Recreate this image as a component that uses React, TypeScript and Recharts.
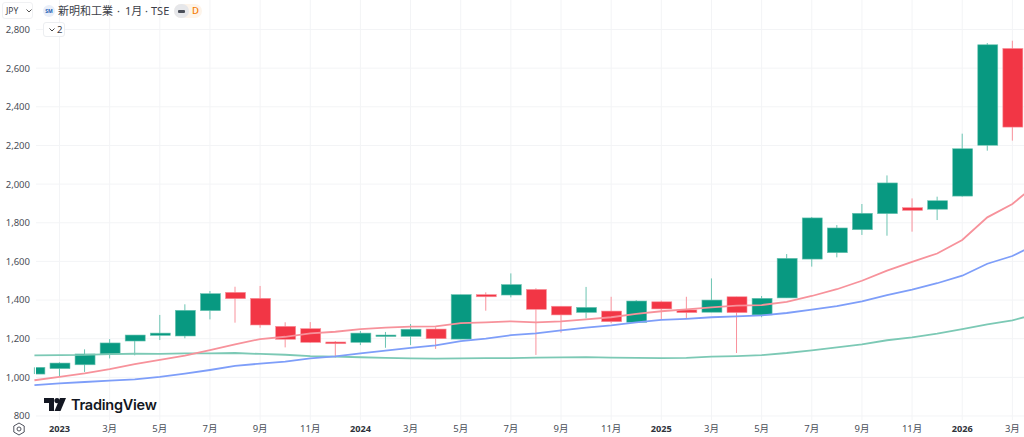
import React from 'react';
import { ComposedChart, Bar, Line, XAxis, YAxis, CartesianGrid } from 'recharts';

const months = [
  '2022-12', '2023-01', '2023-02', '2023-03', '2023-04', '2023-05', '2023-06', '2023-07', '2023-08', '2023-09', '2023-10', '2023-11', '2023-12',
  '2024-01', '2024-02', '2024-03', '2024-04', '2024-05', '2024-06', '2024-07', '2024-08', '2024-09', '2024-10', '2024-11', '2024-12',
  '2025-01', '2025-02', '2025-03', '2025-04', '2025-05', '2025-06', '2025-07', '2025-08', '2025-09', '2025-10', '2025-11', '2025-12',
  '2026-01', '2026-02', '2026-03', '2026-04',
];

const opens = [
  1017, 1045, 1065, 1121, 1188, 1217, 1214, 1345, 1440, 1409, 1264, 1252, 1183,
  1181, 1212, 1212, 1250, 1198, 1428, 1426, 1455, 1368, 1336, 1343, 1285,
  1391, 1349, 1337, 1417, 1323, 1411, 1612, 1645, 1764, 1847, 1878, 1870,
  1938, 2201, 2702, null,
];
const closes = [
  1052, 1074, 1121, 1178, 1219, 1229, 1347, 1433, 1407, 1271, 1197, 1181, 1174,
  1229, 1219, 1249, 1200, 1428, 1417, 1480, 1352, 1323, 1362, 1288, 1395,
  1354, 1335, 1400, 1335, 1409, 1616, 1825, 1773, 1849, 2006, 1864, 1914,
  2183, 2721, 2295, null,
];
const highs = [
  1052, 1078, 1145, 1198, 1219, 1323, 1378, 1447, 1469, 1473, 1285, 1286, 1188,
  1240, 1235, 1276, 1259, 1428, 1440, 1538, 1461, 1368, 1468, 1417, 1400,
  1397, 1417, 1512, 1417, 1421, 1638, 1830, 1788, 1897, 2045, 1926, 1935,
  2261, 2730, 2742, null,
];
const lows = [
  1017, 1003, 1028, 1098, 1114, 1193, 1202, 1300, 1283, 1257, 1155, 1178, 1102,
  1167, 1153, 1167, 1147, 1198, 1345, 1414, 1116, 1231, 1305, 1280, 1285,
  1297, 1305, 1337, 1126, 1311, 1411, 1573, 1621, 1737, 1733, 1754, 1814,
  1935, 2173, 2225, null,
];

const maRed = [
  985, 1003, 1021, 1043, 1069, 1090, 1112, 1141, 1171, 1198, 1210, 1228, 1236,
  1250, 1257, 1262, 1264, 1281, 1285, 1290, 1285, 1290, 1300, 1311, 1329,
  1342, 1352, 1362, 1371, 1374, 1391, 1421, 1456, 1500, 1552, 1598, 1641,
  1711, 1828, 1897, 2005,
];
const maBlue = [
  960, 969, 976, 983, 990, 1002, 1019, 1038, 1059, 1071, 1081, 1098, 1109,
  1124, 1138, 1153, 1166, 1188, 1200, 1218, 1228, 1243, 1257, 1269, 1285,
  1297, 1303, 1311, 1316, 1321, 1333, 1350, 1368, 1393, 1426, 1454, 1487,
  1526, 1588, 1628, 1691,
];
const maGreen = [
  1114, 1115, 1116, 1120, 1122, 1121, 1124, 1124, 1126, 1121, 1117, 1110, 1107,
  1104, 1101, 1098, 1097, 1098, 1100, 1100, 1102, 1103, 1105, 1102, 1101,
  1100, 1101, 1107, 1110, 1115, 1126, 1140, 1155, 1171, 1192, 1207, 1226,
  1249, 1274, 1295, 1329,
];

const xTicks = [
  '2023-01', '2023-03', '2023-05', '2023-07', '2023-09', '2023-11',
  '2024-01', '2024-03', '2024-05', '2024-07', '2024-09', '2024-11',
  '2025-01', '2025-03', '2025-05', '2025-07', '2025-09', '2025-11',
  '2026-01', '2026-03',
];
const yTicks = [800, 1000, 1200, 1400, 1600, 1800, 2000, 2200, 2400, 2600, 2800];

const UP = '#089981';
const DOWN = '#F23645';
const UP_SOFT = '#6CC4B2';
const DOWN_SOFT = '#F9929C';
const FONT = '"Noto Sans", "Noto Sans CJK JP", sans-serif';

const data = months.map((month, i) => ({
  month,
  body: opens[i] == null ? null : [Math.min(opens[i], closes[i]), Math.max(opens[i], closes[i])],
  wick: lows[i] == null ? null : [lows[i], highs[i]],
  up: (closes[i] ?? 0) >= (opens[i] ?? 0),
  maRed: maRed[i],
  maBlue: maBlue[i],
  maGreen: maGreen[i],
}));

const BodyShape = (props: any) => {
  const { x, y, width, height, payload } = props;
  if (payload.body == null) return null;
  const top = Math.min(y, y + height);
  return (
    <rect
      x={x}
      y={top}
      width={width}
      height={Math.max(Math.abs(height), 1.5)}
      fill={payload.up ? UP : DOWN}
      stroke={payload.up ? UP_SOFT : DOWN_SOFT}
      strokeWidth={0.6}
      clipPath="url(#plotClip)"
    />
  );
};

const WickShape = (props: any) => {
  const { x, y, width, height, payload } = props;
  if (payload.wick == null) return null;
  return (
    <rect
      x={x}
      y={Math.min(y, y + height)}
      width={width}
      height={Math.abs(height)}
      fill={payload.up ? UP_SOFT : DOWN_SOFT}
    />
  );
};

const YTick = ({ y, payload }: any) => (
  <text x={30} y={y} dy={3.4} textAnchor="end" fontSize={9.5} fontFamily={FONT} fill="#4a4e58">
    {payload.value.toLocaleString('en-US')}
  </text>
);

const XTick = ({ x, y, payload }: any) => {
  const [year, month] = payload.value.split('-');
  const isYear = month === '01';
  return (
    <text
      x={x}
      y={y}
      dy={6}
      textAnchor="middle"
      fontSize={isYear ? 9.2 : 9.5}
      fontFamily={FONT}
      fontWeight={isYear ? 700 : 400}
      fill={isYear ? '#2f323a' : '#4a4e58'}
    >
      {isYear ? year : `${Number(month)}月`}
    </text>
  );
};

const titleStyle: React.CSSProperties = {
  position: 'absolute',
  top: 2,
  fontFamily: FONT,
  fontSize: 11,
  color: '#3c4048',
  lineHeight: '18px',
  whiteSpace: 'nowrap',
};

const Header = () => (
  <>
    <div style={{ position: 'absolute', left: 2, top: 2, width: 31, height: 17, boxSizing: 'border-box', border: '1px solid #f0f1f3', borderRadius: 3, fontFamily: FONT, fontSize: 8.5, color: '#3c4048', lineHeight: '16px', paddingLeft: 3 }}>
      JPY
      <svg width="6" height="4" style={{ position: 'absolute', left: 23, top: 6 }}>
        <path d="M0.5 0.5 L3 3 L5.5 0.5" fill="none" stroke="#555" strokeWidth="1" />
      </svg>
    </div>
    <div style={{ position: 'absolute', left: 43, top: 5, width: 12, height: 12, borderRadius: 6, background: '#e9eff9', color: '#1c5fb4', fontFamily: FONT, fontSize: 5, fontWeight: 700, textAlign: 'center', lineHeight: '12px' }}>
      SM
    </div>
    <div style={{ ...titleStyle, left: 58 }}>新明和工業</div>
    <div style={{ ...titleStyle, left: 117 }}>·</div>
    <div style={{ ...titleStyle, left: 125 }}>1月</div>
    <div style={{ ...titleStyle, left: 145 }}>·</div>
    <div style={{ ...titleStyle, left: 151 }}>TSE</div>
    <div style={{ position: 'absolute', left: 174, top: 4, width: 28, height: 14, borderRadius: 7, background: '#fdf4ea' }} />
    <div style={{ position: 'absolute', left: 174, top: 4, width: 15, height: 14, borderRadius: 7, background: '#e6e7ea' }}>
      <div style={{ position: 'absolute', left: 4, top: 6, width: 7, height: 2.5, background: '#4a4e58', borderRadius: 1 }} />
    </div>
    <div style={{ position: 'absolute', left: 192, top: 3, fontFamily: FONT, fontSize: 9.5, fontWeight: 500, color: '#f57c00', lineHeight: '16px' }}>D</div>
    <div style={{ position: 'absolute', left: 43, top: 22, width: 22, height: 15, boxSizing: 'border-box', border: '1px solid #eceef1', borderRadius: 3, background: '#fff', fontFamily: FONT, fontSize: 9.5, color: '#3c4048', lineHeight: '13px', paddingLeft: 13 }}>
      2
      <svg width="6" height="4" style={{ position: 'absolute', left: 5, top: 5 }}>
        <path d="M0.5 0.5 L3 3 L5.5 0.5" fill="none" stroke="#444" strokeWidth="1" />
      </svg>
    </div>
  </>
);

const Watermark = () => (
  <>
    <svg width="22" height="13" style={{ position: 'absolute', left: 44, top: 398 }}>
      <path d="M0 0 H10 V13 H5 V5 H0 Z" fill="#131722" />
      <circle cx="13" cy="2.6" r="2.6" fill="#131722" />
      <path d="M16 0 H22 L16.5 13 H10.5 Z" fill="#131722" />
    </svg>
    <div style={{ position: 'absolute', left: 71, top: 394.5, fontFamily: '"Inter", "Noto Sans", sans-serif', fontSize: 14.5, fontWeight: 600, color: '#131722', lineHeight: '20px', letterSpacing: -0.25 }}>
      TradingView
    </div>
    <svg width="14" height="14" style={{ position: 'absolute', left: 12, top: 422 }}>
      <path d="M7 1 L12.2 4 V10 L7 13 L1.8 10 V4 Z" fill="none" stroke="#50535e" strokeWidth="1" />
      <circle cx="7" cy="7" r="2" fill="none" stroke="#50535e" strokeWidth="1" />
    </svg>
  </>
);

export default function App() {
  return (
    <div style={{ position: 'absolute', left: 0, top: 0, width: 1024, height: 437, overflow: 'hidden', background: '#fff' }}>
      <ComposedChart width={1050} height={437} data={data} margin={{ top: 0, right: 0, bottom: 0, left: 0 }}>
        <defs>
          <clipPath id="plotClip">
            <rect x={36} y={0} width={1014} height={420} />
          </clipPath>
        </defs>
        <CartesianGrid
          xAxisId="main"
          stroke="#f3f4f6"
          syncWithTicks
          horizontal={(p: any) => <line key={p.y1} x1={36} x2={p.x2} y1={p.y1} y2={p.y2} stroke="#f3f4f6" />}
        />
        <XAxis
          xAxisId="main"
          dataKey="month"
          ticks={xTicks}
          interval={0}
          height={17}
          axisLine={false}
          tickLine={false}
          tickMargin={0}
          tick={<XTick />}
        />
        <XAxis xAxisId="wick" dataKey="month" hide />
        <YAxis
          width={21.9}
          domain={[779.3, 2952.7]}
          ticks={yTicks}
          interval={0}
          axisLine={false}
          tickLine={false}
          tick={<YTick />}
        />
        <Line xAxisId="main" dataKey="maGreen" stroke="#7CC9B5" strokeWidth={1.8} dot={false} isAnimationActive={false} />
        <Line xAxisId="main" dataKey="maBlue" stroke="#7E9EF9" strokeWidth={1.8} dot={false} isAnimationActive={false} />
        <Line xAxisId="main" dataKey="maRed" stroke="#F7929B" strokeWidth={1.8} dot={false} isAnimationActive={false} />
        <Bar xAxisId="wick" dataKey="wick" barSize={1} shape={<WickShape />} isAnimationActive={false} />
        <Bar xAxisId="main" dataKey="body" barSize={20} shape={<BodyShape />} isAnimationActive={false} />
      </ComposedChart>
      <Header />
      <Watermark />
    </div>
  );
}
